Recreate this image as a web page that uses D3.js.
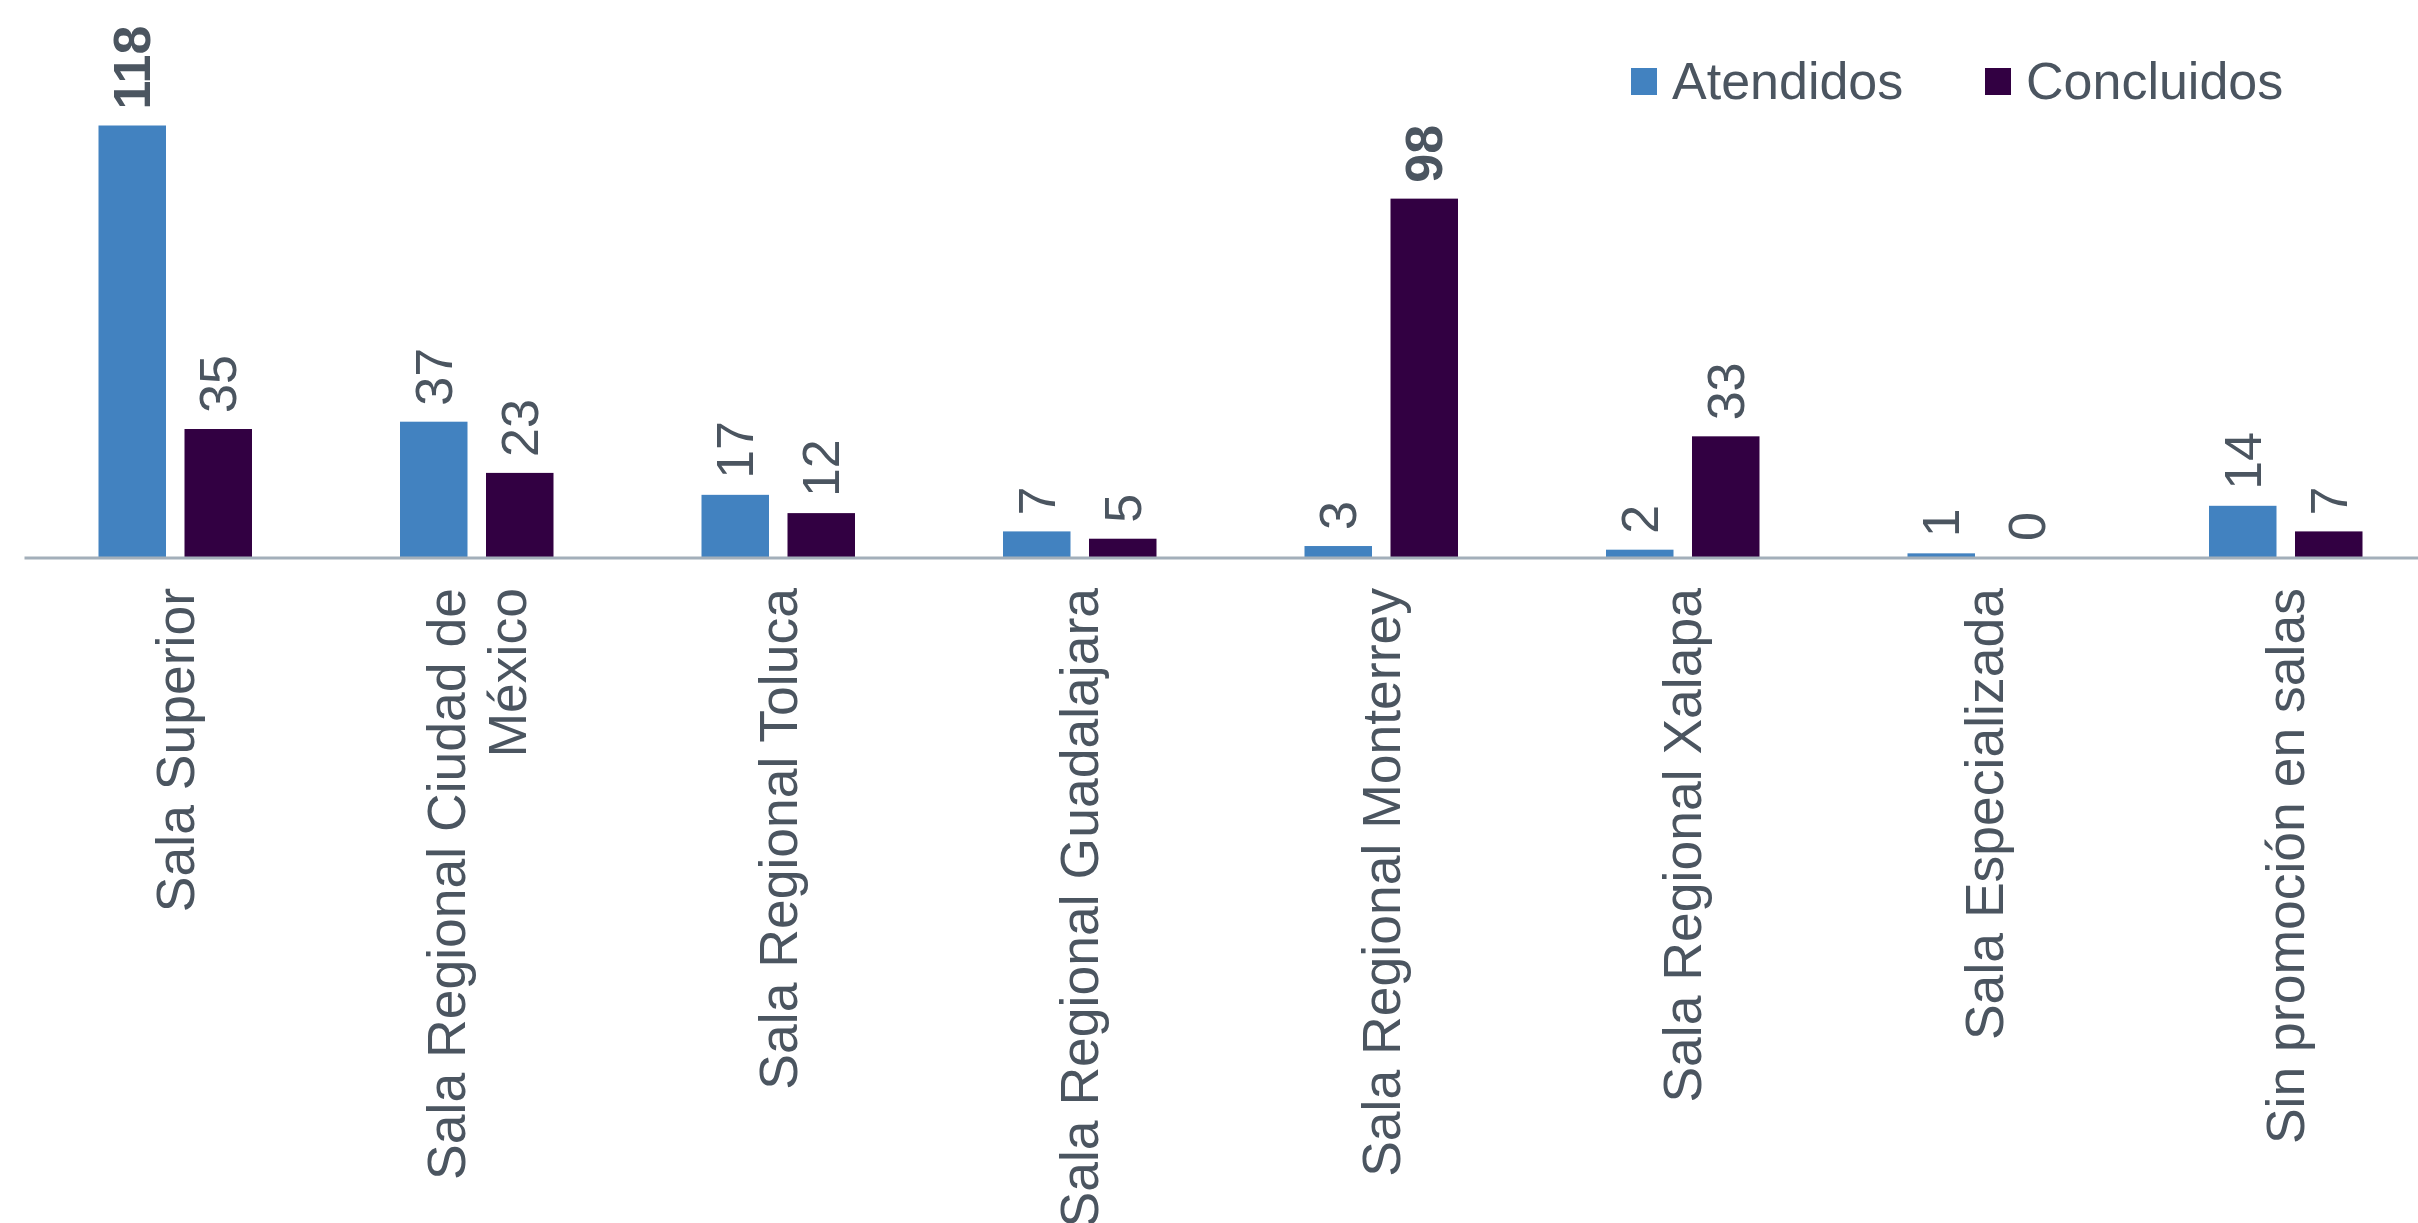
<!DOCTYPE html>
<html>
<head>
<meta charset="utf-8">
<script src="https://cdn.jsdelivr.net/npm/d3@7"></script>
<style>
  body { margin: 0; background: #fff; }
  text { font-family: "Liberation Sans", Arial, sans-serif; }
</style>
</head>
<body>
<svg width="2418" height="1223"></svg>
<script>
let categories = [
  ["Sala Superior"],
  ["Sala Regional Ciudad de", "México"],
  ["Sala Regional Toluca"],
  ["Sala Regional Guadalajara"],
  ["Sala Regional Monterrey"],
  ["Sala Regional Xalapa"],
  ["Sala Especializada"],
  ["Sin promoción en salas"]
];
let series_names = ["Atendidos", "Concluidos"];
let atendidos = [118, 37, 17, 7, 3, 2, 1, 14];
let concluidos = [35, 23, 12, 5, 98, 33, 0, 7];
let colors = ["#4282c0", "#320042"];

let text_color = "#4b5560";
let font_size = 52;
let cat_font_size = 53.5;
let baseline = 557;

var svg = d3.select("svg");

var x_axis = d3.scaleBand()
  .domain(d3.range(categories.length))
  .range([24.5, 24.5 + 301.5 * categories.length]);

var y_axis = d3.scaleLinear()
  .domain([0, 118])
  .range([baseline, 125.5]);

var bar_width = 67.5;
var offsets = [-43, 43];

let bar_data = [];
for (var i = 0; i < categories.length; i++) {
  bar_data.push({cat: i, s: 0, v: atendidos[i]});
  bar_data.push({cat: i, s: 1, v: concluidos[i]});
}
let max_values = [d3.max(atendidos), d3.max(concluidos)];

function bar_center(d) {
  return x_axis(d.cat) + x_axis.bandwidth() / 2 + offsets[d.s];
}

svg.selectAll(".bar")
  .data(bar_data)
  .enter().append("rect")
    .attr("class", "bar")
    .attr("x", d => bar_center(d) - bar_width / 2)
    .attr("y", d => y_axis(d.v))
    .attr("width", bar_width)
    .attr("height", d => baseline - y_axis(d.v))
    .attr("fill", d => colors[d.s]);

// axis line
svg.append("line")
  .attr("x1", x_axis.range()[0])
  .attr("x2", 2418)
  .attr("y1", baseline + 1)
  .attr("y2", baseline + 1)
  .attr("stroke", "#a3afba")
  .attr("stroke-width", 3);

// value labels
svg.selectAll(".val")
  .data(bar_data)
  .enter().append("text")
    .attr("class", "val")
    .attr("transform", d => "translate(" + bar_center(d) + "," + (y_axis(d.v) - 16) + ") rotate(-90)")
    .attr("dy", "0.35em")
    .attr("text-anchor", "start")
    .attr("font-size", font_size)
    .attr("font-weight", d => d.v == max_values[d.s] ? "bold" : "normal")
    .attr("fill", text_color)
    .text(d => d.v);

// category labels
var cat_labels = svg.selectAll(".cat")
  .data(categories)
  .enter().append("text")
    .attr("class", "cat")
    .attr("transform", (d, i) => "translate(" + (x_axis(i) + x_axis.bandwidth() / 2) + "," + (baseline + 31) + ") rotate(-90)")
    .attr("text-anchor", "end")
    .attr("font-size", cat_font_size)
    .attr("fill", text_color);

cat_labels.each(function(lines) {
  var t = d3.select(this);
  var n = lines.length;
  lines.forEach(function(line, k) {
    t.append("tspan")
      .attr("x", 0)
      .attr("y", 0)
      .attr("dy", (0.35 + (k - (n - 1) / 2) * 1.15) + "em")
      .text(line);
  });
});

// legend
var legend_x = [1631, 1985];
var legend = svg.selectAll(".legend")
  .data(series_names)
  .enter().append("g")
    .attr("class", "legend")
    .attr("transform", (d, i) => "translate(" + legend_x[i] + ",0)");

legend.append("rect")
  .attr("x", 0)
  .attr("y", 68)
  .attr("width", 26)
  .attr("height", 27)
  .attr("fill", (d, i) => colors[i]);

legend.append("text")
  .attr("x", 41)
  .attr("y", 98.5)
  .attr("font-size", font_size)
  .attr("fill", text_color)
  .text(d => d);
</script>
</body>
</html>
